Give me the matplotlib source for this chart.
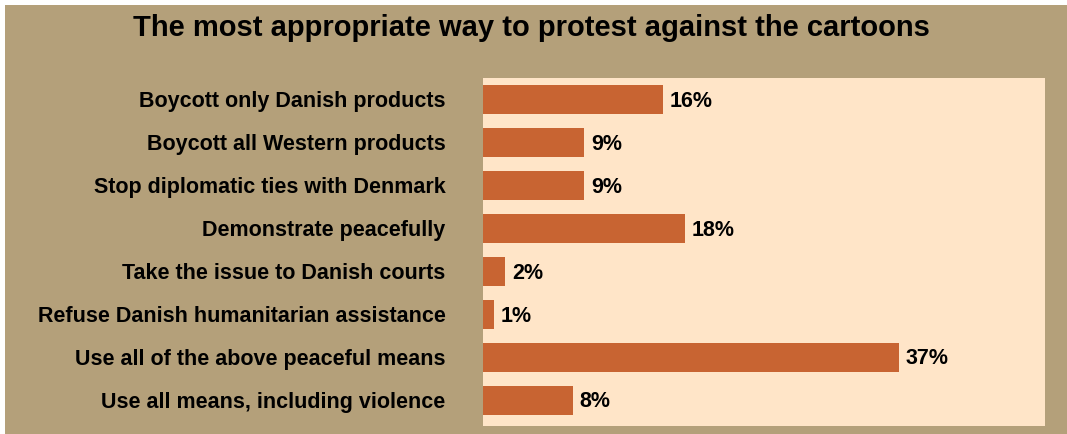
import matplotlib.pyplot as plt
from matplotlib.patches import Rectangle

categories = [
    "Boycott only Danish products",
    "Boycott all Western products",
    "Stop diplomatic ties with Denmark",
    "Demonstrate peacefully",
    "Take the issue to Danish courts",
    "Refuse Danish humanitarian assistance",
    "Use all of the above peaceful means",
    "Use all means, including violence",
]
values = [16, 9, 9, 18, 2, 1, 37, 8]
title = "The most appropriate way to protest against the cartoons"

plt.rcParams['font.family'] = ['Liberation Sans', 'DejaVu Sans']

W, H = 1067, 434
fig = plt.figure(figsize=(W / 100, H / 100), dpi=100, facecolor='white')

# tan panel behind everything (small white strip top and left)
fig.patches.append(Rectangle((5 / W, 0), 1 - 5 / W, (H - 5) / H,
                             transform=fig.transFigure, facecolor='#B4A07A',
                             edgecolor='none', zorder=-1))

ax = fig.add_axes([483 / W, 1 - 426 / H, (1045 - 483) / W, (426 - 78) / H])
ax.set_facecolor('#FFE5C8')

y = range(len(categories))
ax.barh(y, values, height=0.67, color='#C86432', edgecolor='none')
ax.set_xlim(0, 50)
ax.set_ylim(7.6, -0.5)

for i, v in enumerate(values):
    ax.text(v + 0.6, i + 0.04, f"{v}%", va='center', ha='left',
            fontsize=15.5, fontweight='bold')

ax.set_yticks(list(y))
ax.set_yticklabels(categories, fontsize=15.5, fontweight='bold')
ax.tick_params(axis='y', length=0, pad=27)
ax.set_xticks([])
for s in ax.spines.values():
    s.set_visible(False)

fig.text(531 / W, 1 - 28 / H, title, ha='center', va='center',
         fontsize=21, fontweight='bold')

fig.savefig("out.png", dpi=100, facecolor=fig.get_facecolor())
